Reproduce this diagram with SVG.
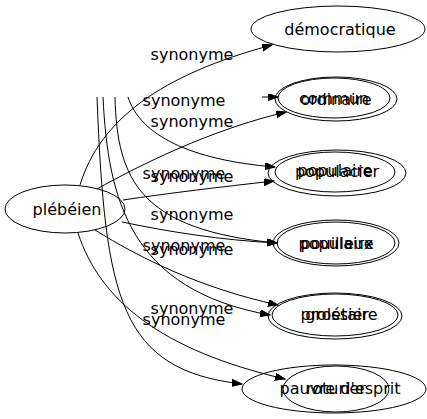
<svg xmlns="http://www.w3.org/2000/svg" width="427" height="419" viewBox="0 0 427 419">
<style>
  .n { fill: none; stroke: #000; stroke-width: 1; }
  .t { font-family: "DejaVu Sans", "Liberation Sans", sans-serif; font-size: 16px; fill: #000; text-anchor: middle; }
  .e { fill: none; stroke: #000; stroke-width: 1; marker-end: url(#arr); }
</style>
<defs>
  <marker id="arr" markerUnits="userSpaceOnUse" markerWidth="11" markerHeight="8" refX="10" refY="3.5" orient="auto">
    <path d="M0,0 L10,3.5 L0,7 z" fill="#000" stroke="#000" stroke-width="1"/>
  </marker>
</defs>
<rect width="427" height="419" fill="#fff"/>

<g id="connectors">
  <path class="e" d="M80,185 C100,120 160,75 272,45"/>
  <path class="e" d="M97,189 C140,165 210,130 286,112"/>
  <path class="e" d="M123,200 C170,193 220,187 274,181"/>
  <path class="e" d="M122,222 C170,232 220,240 277,243"/>
  <path class="e" d="M95,230 C140,258 200,288 278,305"/>
  <path class="e" d="M78,233 C100,300 160,350 285,379"/>
  <path class="e" d="M262,97 L278,97"/>
  <path class="e" d="M128,97 C140,135 190,160 275,167"/>
  <path class="e" d="M115,97 C117,180 140,230 277,243"/>
  <path class="e" d="M103,97 C108,200 130,290 270,315"/>
  <path class="e" d="M97,97 C105,300 120,370 242,384"/>
  <g id="edge-labels">
    <text class="t" x="192" y="60">synonyme</text>
    <text class="t" x="184" y="106">synonyme</text>
    <text class="t" x="192" y="127">synonyme</text>
    <text class="t" x="184" y="179">synonyme</text>
    <text class="t" x="192" y="182">synonyme</text>
    <text class="t" x="192" y="220">synonyme</text>
    <text class="t" x="184" y="251">synonyme</text>
    <text class="t" x="192" y="255">synonyme</text>
    <text class="t" x="192" y="314">synonyme</text>
    <text class="t" x="184" y="325">synonyme</text>
  </g>
</g>

<g id="plebeien"><ellipse class="n" cx="65" cy="209" rx="60" ry="24"/><text class="t" x="67" y="215">plébéien</text></g>
<g id="democratique"><ellipse class="n" cx="338" cy="29" rx="87" ry="23"/><text class="t" x="340" y="35">démocratique</text></g>
<g id="ordinaire"><ellipse class="n" cx="336" cy="99" rx="61" ry="22"/><text class="t" x="336" y="105">ordinaire</text></g>
<g id="commun"><ellipse class="n" cx="334" cy="98" rx="56" ry="20"/><text class="t" x="334" y="104">commun</text></g>
<g id="populacier"><ellipse class="n" cx="337" cy="173" rx="69" ry="23"/><text class="t" x="337" y="177">populacier</text></g>
<g id="populaire2"><ellipse class="n" cx="335" cy="172" rx="60" ry="20"/><text class="t" x="335" y="176">populaire</text></g>
<g id="populaire"><ellipse class="n" cx="336" cy="243" rx="63" ry="23"/><text class="t" x="336" y="249">populaire</text></g>
<g id="pouilleux"><ellipse class="n" cx="336" cy="243" rx="59" ry="21"/><text class="t" x="337" y="249">pouilleux</text></g>
<g id="proletaire"><ellipse class="n" cx="335" cy="316" rx="67" ry="23"/><text class="t" x="339" y="320">prolétaire</text></g>
<g id="grossier"><ellipse class="n" cx="335" cy="315" rx="63" ry="21"/><text class="t" x="337" y="320">grossier</text></g>
<g id="pauvre-d-esprit"><ellipse class="n" cx="334" cy="389" rx="92" ry="24"/><text class="t" x="340" y="394">pauvre d'esprit</text></g>
<g id="roturier"><ellipse class="n" cx="336" cy="389" rx="53" ry="23"/><text class="t" x="336" y="394">roturier</text></g>
</svg>
